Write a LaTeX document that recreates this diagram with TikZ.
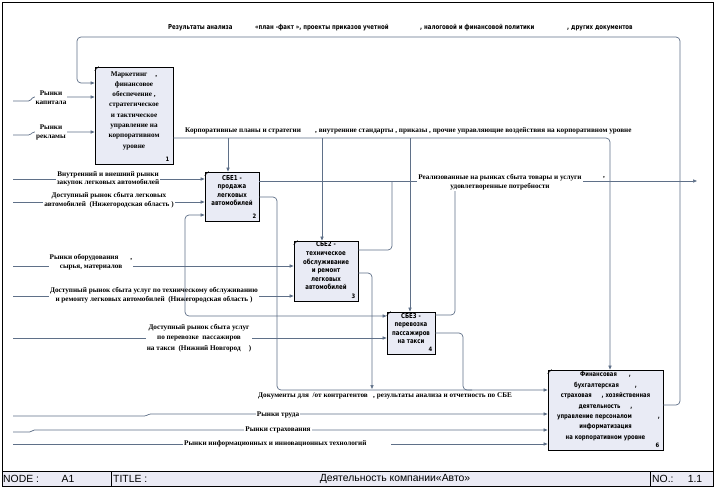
\documentclass[tikz,border=0pt]{standalone}
\usepackage{fontspec}
\setmainfont{Liberation Serif}
\newfontfamily\dsans[FakeStretch=0.88]{DejaVu Sans}
\newfontfamily\dsansb[FakeStretch=0.8]{DejaVu Sans}
\newfontfamily\lsans{Liberation Sans}
\usetikzlibrary{arrows.meta,calc}
\definecolor{lc}{HTML}{5F7088}
\definecolor{bfill}{HTML}{E9EBF5}
\definecolor{barfill}{HTML}{EBEBF5}
\tikzset{
  conn/.style={draw=lc, line width=0.7pt, rounded corners=4pt},
  arr/.style={conn, -{Triangle[length=4pt,width=3.2pt]}},
  box/.style={draw=black, fill=bfill, line width=0.8pt, inner sep=0pt},
  btxt/.style={align=center, inner sep=0pt, font=\dsansb\bfseries\fontsize{6.8}{8.6}\selectfont},
  btxtser/.style={align=center, inner sep=0pt, font=\bfseries\fontsize{7.2}{10.3}\selectfont},
  num/.style={inner sep=0pt, font=\dsans\bfseries\fontsize{6}{6}\selectfont},
  lbl/.style={align=center, fill=white, inner sep=1pt, font=\bfseries\fontsize{7.2}{9}\selectfont},
  lbln/.style={align=center, inner sep=0pt, font=\bfseries\fontsize{7.2}{9}\selectfont},
  toplbl/.style={inner sep=0pt, anchor=west, font=\dsansb\bfseries\fontsize{6.8}{8}\selectfont},
  bar/.style={inner sep=0pt, font=\lsans\fontsize{10.4}{11}\selectfont},
}
\begin{document}
\begin{tikzpicture}[x=1pt,y=-1pt]
\useasboundingbox (0,0) rectangle (717,487);
\fill[white] (0,0) rectangle (717,487);
% frame and bottom bar
\draw[black, line width=0.8pt] (2,2) rectangle (713,486);
\draw[black, fill=barfill, line width=0.8pt] (2,471) rectangle (713,486);
\draw[black, line width=0.8pt] (111,471) -- (111,486) (650,471) -- (650,486);
\node[bar, anchor=west] (nd) at (3,478.5) {NODE :};
\node[bar] (a1) at (68,478.5) {A1};
\node[bar, anchor=west] (tt) at (113,478.5) {TITLE :};
\node[bar] (ttl) at (395,478.5) {Деятельность компании«Авто»};
\node[bar, anchor=west] (no) at (652,478.5) {NO.:};
\node[bar] (nov) at (695,478.5) {1.1};

% boxes
\node[box, minimum width=78pt, minimum height=97pt] (b1) at (134,115.5) {};
\node[box, minimum width=54pt, minimum height=49pt] (b2) at (232,196.5) {};
\node[box, minimum width=64pt, minimum height=60pt] (b3) at (326,271) {};
\node[box, minimum width=48pt, minimum height=42pt] (b4) at (411,333) {};
\node[box, minimum width=115pt, minimum height=80pt] (b6) at (605.5,410) {};
\foreach \b in {b1,b2,b3,b4,b6}{
  \draw[black, line width=0.5pt] ([yshift=-4pt]\b.north west) -- ([xshift=4pt]\b.north west);
}
\node[btxtser] (t1) at ([yshift=5pt]b1.center) {Маркетинг\hspace{8pt},\\финансовое\\обеспечение ,\\стратегическое\\и тактическое\\управление на\\корпоративном\\уровне};
\node[btxt] (t2) at ([yshift=6pt]b2.center) {СБЕ1 -\\продажа\\легковых\\автомобилей};
\node[btxt] (t3) at ([yshift=5pt]b3.center) {СБЕ2 -\\техническое\\обслуживание\\и ремонт\\легковых\\автомобилей};
\node[btxt] (t4) at ([yshift=4.5pt]b4.center) {СБЕ3 -\\перевозка\\пассажиров\\на такси};
\node[btxt, font=\dsansb\bfseries\fontsize{6.6}{10.4}\selectfont] (t6) at ([yshift=3.5pt]b6.center) {Финансовая\hspace{12pt},\\бухгалтерская\hspace{16pt},\\страховая\hspace{10pt}, хозяйственная\\деятельность\hspace{10pt},\\\hspace{6pt}управление персоналом\hspace{26pt},\\информатизация\\на корпоративном уровне};
\node[num, anchor=south east] (n1) at ([xshift=-4pt,yshift=3pt]b1.south east) {1};
\node[num, anchor=south east] (n2) at ([xshift=-3pt,yshift=3pt]b2.south east) {2};
\node[num, anchor=south east] (n3) at ([xshift=-3pt,yshift=3pt]b3.south east) {3};
\node[num, anchor=south east] (n4) at ([xshift=-3pt,yshift=3pt]b4.south east) {4};
\node[num, anchor=south east] (n6) at ([xshift=-4pt,yshift=3pt]b6.south east) {6};

% coordinates
\coordinate (fbR) at (680,405);
\coordinate (fbL) at (77,83);
\coordinate (cap0) at (13,101);
\coordinate (cap1) at (33,97);
\coordinate (rek0) at (13,135);
\coordinate (rek1) at (33,132);
\coordinate (ctlR) at (610,138);
\coordinate (c2) at (228,138);
\coordinate (c3) at (322,138);
\coordinate (c4) at (410,138);
\coordinate (i1) at (13,179);
\coordinate (i2) at (13,202);
\coordinate (i3) at (13,266);
\coordinate (i4) at (13,296);
\coordinate (i5) at (13,338);
\coordinate (lp) at (185,266);
\coordinate (lpu) at (185,215);
\coordinate (lpd) at (185,316);
\coordinate (oR) at (697,181);
\coordinate (o3) at (392,250);
\coordinate (o4) at (455,315);
\coordinate (d2) at (277,197);
\coordinate (dB) at (277,390);
\coordinate (d3) at (372,273);
\coordinate (d3b) at (372,389);
\coordinate (d4) at (463,333);
\coordinate (d4b) at (463,390);
\coordinate (l0) at (13,416);
\coordinate (l1) at (149,414);
\coordinate (s0) at (13,432);
\coordinate (s1) at (33,430);
\coordinate (it0) at (13,444);

% connectors
\draw[arr] (b6.east |- fbR) -- (fbR) -- (680,37) -- (77,37) -- (fbL) -- (fbL -| b1.west);
\draw[arr, rounded corners=1.5pt] (cap0) -- (30,101) -- (cap1) -- (cap1 -| b1.west);
\draw[arr, rounded corners=1.5pt] (rek0) -- (30,135) -- (rek1) -- (rek1 -| b1.west);
\draw[arr] (b1.east |- ctlR) -- (ctlR) -- (ctlR |- b6.north);
\draw[arr] (c2) -- (c2 |- b2.north);
\draw[arr] (c3) -- (c3 |- b3.north);
\draw[arr] (c4) -- (c4 |- b4.north);
\draw[arr] (i1) -- (i1 -| b2.west);
\draw[arr] (i2) -- (i2 -| b2.west);
\draw[arr] (i3) -- (i3 -| b3.west);
\draw[arr] (i4) -- (i4 -| b3.west);
\draw[arr] (i5) -- (i5 -| b4.west);
\draw[arr] (b2.east |- oR) -- (oR);
\draw[conn] (b3.east |- o3) -- (o3) -- (o3 |- oR);
\draw[conn] (b4.east |- o4) -- (o4) -- (o4 |- oR);
\draw[arr] (b2.east |- d2) -- (d2) -- (dB) -- (dB -| b6.west);
\draw[arr] (b3.east |- d3) -- (d3) -- (d3b);
\draw[conn] (b4.east |- d4) -- (d4) -- (d4b) -- (472,390);
\draw[arr, rounded corners=1.5pt] (l0) -- (146,416) -- (l1) -- (l1 -| b6.west);
\draw[arr, rounded corners=1.5pt] (s0) -- (31,432) -- (s1) -- (s1 -| b6.west);
\draw[arr] (it0) -- (it0 -| b6.west);

% labels
\node[toplbl] (tl1) at (168,28) {Результаты анализа};
\node[toplbl] (tl2) at (255,28) {«план -факт », проекты приказов учетной};
\node[toplbl] (tl3) at (420,28) {, налоговой и финансовой политики};
\node[toplbl] (tl4) at (567,28) {, других документов};
\node[lbln, anchor=west] (cl1) at (185,131) {Корпоративные планы и стратегии};
\node[lbln, anchor=west] (cl2) at (315,131) {, внутренние стандарты\ , приказы\ , прочие управляющие воздействия на корпоративном уровне};
\node[lbl] (lk) at (51,98) {Рынки\\капитала};
\node[lbl] (lr) at (51,132) {Рынки\\рекламы};
\node[lbl, font=\bfseries\fontsize{7.2}{8.3}\selectfont] (li1) at (108,179) {Внутренний и внешний рынки\\закупок легковых автомобилей};
\node[lbl] (li2) at (109,200) {Доступный рынок сбыта легковых\\автомобилей\ \ (Нижегородская область )};
\node[lbl] (li3) at (91,262) {Рынки оборудования\hspace{12pt},\\сырья, материалов};
\node[lbl] (li4) at (154,295) {Доступный рынок сбыта услуг по техническому обслуживанию\\и ремонту легковых автомобилей\ \ (Нижегородская область )};
\node[lbl, font=\bfseries\fontsize{7.2}{10.5}\selectfont] (li5) at (199,338) {Доступный рынок сбыта услуг\\по перевозке\ \ пассажиров\\на такси\ \ (Нижний Новгород\hspace{8pt})};
\node[lbl] (lo) at (500,182) {Реализованные на рынках сбыта товары и услуги\\удовлетворенные потребности};
\node[lbln] (lc) at (604,178) {,};
\node[lbln, anchor=west] (ld) at (258,396) {Документы для\ \ /от контрагентов\ \ \ , результаты анализа и отчетность по СБЕ};
\node[lbl] (lt) at (278,415) {Рынки труда};
\node[lbl] (ls) at (278,430) {Рынки страхования};
\node[lbl, anchor=west] (lit) at (183,444) {Рынки информационных и инновационных технологий\hspace{24pt}};

% loop drawn over labels
\draw[arr] (lp) -- (lpu) -- (lpu -| b2.west);
\draw[arr] (lp) -- (lpd) -- (lpd -| b4.west);
\end{tikzpicture}
\end{document}
